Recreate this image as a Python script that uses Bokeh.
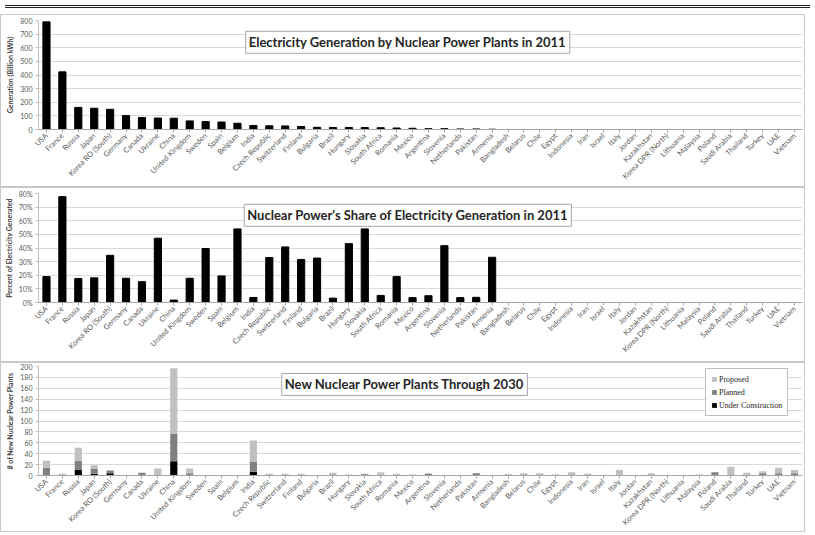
import math
from bokeh.plotting import figure
from bokeh.layouts import column
from bokeh.models import (Label, NumeralTickFormatter, FixedTicker, Legend, LegendItem,
                          ColumnDataSource, Div)
from bokeh.embed import file_html
from bokeh.resources import INLINE

countries = ["USA", "France", "Russia", "Japan", "Korea RO (South)", "Germany", "Canada",
             "Ukraine", "China", "United Kingdom", "Sweden", "Spain", "Belgium", "India",
             "Czech Republic", "Switzerland", "Finland", "Bulgaria", "Brazil", "Hungary",
             "Slovakia", "South Africa", "Romania", "Mexico", "Argentina", "Slovenia",
             "Netherlands", "Pakistan", "Armenia", "Bangladesh", "Belarus", "Chile", "Egypt",
             "Indonesia", "Iran", "Israel", "Italy", "Jordan", "Kazakhstan",
             "Korea DPR (North)", "Lithuania", "Malaysia", "Poland", "Saudi Arabia",
             "Thailand", "Turkey", "UAE", "Vietnam"]

generation = [790, 423, 162, 156, 148, 102, 88, 84, 83, 63, 58, 55, 46, 29, 27, 26, 22, 16,
              15, 15, 14, 13, 11, 9, 6, 6, 4, 4, 2] + [0] * 19

share = [0.19, 0.777, 0.176, 0.181, 0.346, 0.178, 0.153, 0.472, 0.018, 0.178, 0.396, 0.195,
         0.54, 0.037, 0.33, 0.408, 0.316, 0.326, 0.032, 0.432, 0.54, 0.052, 0.19, 0.036,
         0.05, 0.417, 0.036, 0.038, 0.332] + [0] * 19

under_construction = [1, 1, 10, 3, 4, 0, 2, 0, 26, 0, 0, 0, 0, 7, 0, 0, 1, 0, 1, 0, 2, 0, 0,
                      0, 1, 0, 0, 2, 0, 0, 0, 0, 0, 0, 0, 0, 0, 0, 0, 0, 0, 0, 0, 0, 0, 0, 2, 0]
planned = [13, 1, 17, 10, 5, 0, 3, 2, 51, 4, 0, 0, 0, 18, 2, 0, 0, 1, 0, 0, 0, 0, 2, 0, 2, 0,
           0, 2, 1, 2, 2, 0, 1, 2, 2, 0, 0, 1, 2, 1, 1, 0, 6, 0, 0, 4, 2, 4]
proposed = [13, 1, 24, 6, 0, 0, 0, 11, 120, 9, 0, 0, 0, 39, 1, 3, 2, 0, 4, 2, 1, 6, 1, 2, 1,
            1, 1, 0, 0, 0, 2, 4, 1, 4, 1, 1, 10, 0, 2, 0, 0, 2, 0, 16, 5, 4, 10, 6]

FONT = "Lato"
W = 805
BORDER = {"border": "1px solid #c8c8c8"}


def base_fig(height, ymax, top, bottom, ylabel):
    p = figure(x_range=countries, y_range=(0, ymax), width=W, height=height,
               output_backend="svg", toolbar_location=None,
               min_border_left=34, min_border_right=4, min_border_top=top,
               min_border_bottom=bottom)
    p.x_range.range_padding = 0
    p.outline_line_color = None
    p.xgrid.grid_line_color = None
    p.ygrid.grid_line_color = "#d9d9d9"
    p.ygrid.grid_line_width = 1
    p.xaxis.major_label_orientation = math.pi / 4
    p.xaxis.major_label_text_font = FONT
    p.xaxis.major_label_text_font_size = "7.5px"
    p.xaxis.major_label_text_color = "#595959"
    p.xaxis.axis_line_color = "#a6a6a6"
    p.xaxis.major_tick_line_color = "#a6a6a6"
    p.xaxis.major_tick_out = 3
    p.xaxis.major_tick_in = 0
    p.xaxis.major_label_standoff = 2
    p.yaxis.axis_line_color = "#bfbfbf"
    p.yaxis.major_tick_line_color = "#bfbfbf"
    p.yaxis.major_tick_out = 3
    p.yaxis.major_tick_in = 0
    p.yaxis.minor_tick_line_color = None
    p.yaxis.major_label_text_font = FONT
    p.yaxis.major_label_text_font_size = "7px"
    p.yaxis.major_label_text_color = "#595959"
    p.yaxis.major_label_standoff = 3
    p.yaxis.axis_label = ylabel
    p.yaxis.axis_label_text_font = FONT
    p.yaxis.axis_label_text_font_size = "7px"
    p.yaxis.axis_label_text_font_style = "bold"
    p.yaxis.axis_label_text_color = "#404040"
    p.yaxis.axis_label_standoff = 3
    p.styles = BORDER
    return p


def title_box(p, text, x, y):
    p.add_layout(Label(x=x, y=y, text=text, text_align="center", text_baseline="middle",
                       text_font=FONT, text_font_size="13px", text_font_style="bold",
                       text_color="#262626", border_line_color="#a6a6a6",
                       background_fill_color="white", padding=3))


# Panel 1
p1 = base_fig(173, 800, 5, 59, "Generation (Billion kWh)")
p1.yaxis.ticker = FixedTicker(ticks=list(range(0, 801, 100)))
p1.vbar(x=countries, top=generation, width=0.45, color="black")
title_box(p1, "Electricity Generation by Nuclear Power Plants in 2011", 23.2, 640)

# Panel 2
p2 = base_fig(175, 0.8, 5, 61, "Percent of Electricity Generated")
p2.yaxis.ticker = FixedTicker(ticks=[i / 10 for i in range(0, 9)])
p2.yaxis.formatter = NumeralTickFormatter(format="0%")
p2.vbar(x=countries, top=share, width=0.45, color="black")
title_box(p2, "Nuclear Power's Share of Electricity Generation in 2011", 23.2, 0.64)

# Panel 3
src = ColumnDataSource(dict(country=countries, uc=under_construction, pl=planned,
                            pr=proposed))
p3 = base_fig(170, 200, 3, 58, "# of New Nuclear Power Plants")
p3.yaxis.ticker = FixedTicker(ticks=list(range(0, 201, 20)))
rs = p3.vbar_stack(["uc", "pl", "pr"], x="country", width=0.45,
                   color=["black", "#808080", "#c0c0c0"], source=src, line_color=None)
title_box(p3, "New Nuclear Power Plants Through 2030", 23.0, 167)
legend = Legend(items=[LegendItem(label="Proposed", renderers=[rs[2]]),
                       LegendItem(label="Planned", renderers=[rs[1]]),
                       LegendItem(label="Under Construction", renderers=[rs[0]])],
                location=(667, 59))
legend.label_text_font = "Liberation Serif"
legend.label_text_font_size = "8px"
legend.label_text_color = "#262626"
legend.glyph_width = 6
legend.glyph_height = 6
legend.label_standoff = 2
legend.spacing = 3
legend.padding = 5
legend.margin = 0
legend.label_height = 10
legend.border_line_color = "#7f7f7f"
legend.background_fill_color = "white"
p3.add_layout(legend, "center")

topline = Div(text="", width=W, height=4,
              styles={"border-top": "3px double #262626", "box-sizing": "border-box"})

layout = column(topline, p1, p2, p3, spacing=0)

open("out.html", "w").write(file_html(layout, INLINE))
